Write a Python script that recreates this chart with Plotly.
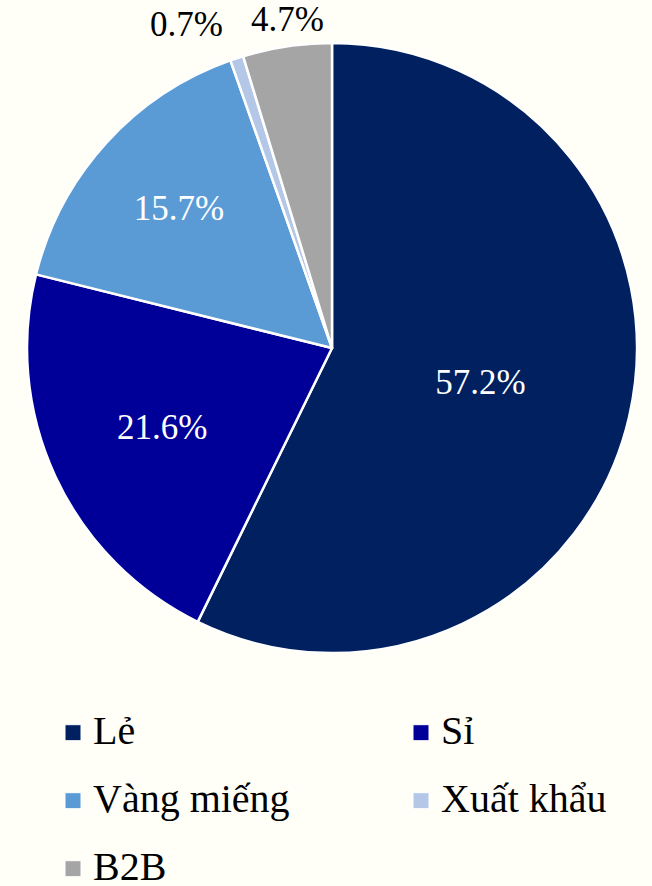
import math
import plotly.graph_objects as go

categories = ["Lẻ", "Sỉ", "Vàng miếng", "Xuất khẩu", "B2B"]
values = [57.2, 21.6, 15.7, 0.7, 4.7]
colors = ["#002060", "#000099", "#5B9BD5", "#B4C7E7", "#A5A5A5"]
text_pos = ["inside", "inside", "inside", "none", "none"]
text_colors = ["#FFFFFF", "#FFFFFF", "#FFFFFF", "#000000", "#000000"]
legend_column = ["legend", "legend2", "legend", "legend2", "legend"]

W, H = 652, 886
cx, cy, R = 332, 348, 305
# outside labels for the thin slices: anchor + pixel nudge from the slice's mid-angle rim point
outside_style = {
    3: dict(xanchor="right", yanchor="bottom", xshift=-12, yshift=12),
    4: dict(xanchor="center", yanchor="bottom", xshift=0, yshift=5),
}
LABEL_FONT = dict(family="Liberation Serif", size=35)

fig = go.Figure()
fig.add_trace(go.Pie(
    labels=categories,
    values=values,
    sort=False,
    direction="clockwise",
    rotation=0,
    showlegend=False,
    marker=dict(colors=colors, line=dict(color="#FFFFFF", width=2.5)),
    texttemplate="%{value:.1f}%",
    textposition=text_pos,
    textfont=dict(**LABEL_FONT, color=text_colors),
    insidetextorientation="horizontal",
    hovertemplate="%{label}: %{value}%<extra></extra>",
    domain=dict(x=[(cx - R) / W, (cx + R) / W], y=[(H - cy - R) / H, (H - cy + R) / H]),
))

total = sum(values)
cum = 0.0
for i, v in enumerate(values):
    mid = (cum + v / 2) / total * 2 * math.pi
    cum += v
    if i not in outside_style:
        continue
    px = cx + R * math.sin(mid)
    py = cy - R * math.cos(mid)
    fig.add_annotation(
        x=px / W, y=(H - py) / H, xref="paper", yref="paper",
        text=f"{v:.1f}%", showarrow=False,
        font=dict(**LABEL_FONT, color="#000000"),
        **outside_style[i],
    )

# legend entries (legend-only markers, one per category)
for name, col, lg in zip(categories, colors, legend_column):
    fig.add_trace(go.Scatter(
        x=[None], y=[None], mode="markers",
        name=f"<span style='font-size:40px'>{name}</span>",
        legendgroup=name,
        marker=dict(symbol="square", size=17, color=col, line=dict(width=1, color="#FFFFFF")),
        legend=lg, showlegend=True, hoverinfo="skip",
    ))

legend_common = dict(
    orientation="v",
    yanchor="top",
    traceorder="grouped",
    tracegroupgap=28.6,
    font=dict(family="Liberation Serif", size=28, color="#000000"),
    bgcolor="rgba(0,0,0,0)",
    borderwidth=0,
)

fig.update_layout(
    width=W, height=H,
    margin=dict(l=0, r=0, t=0, b=0, autoexpand=False),
    paper_bgcolor="#FFFFF7",
    plot_bgcolor="#FFFFF7",
    font=dict(family="Liberation Serif", color="#000000"),
    xaxis=dict(visible=False),
    yaxis=dict(visible=False),
    legend=dict(x=53 / W, y=(H - 708) / H, xanchor="left", **legend_common),
    legend2=dict(x=401 / W, y=(H - 708) / H, xanchor="left", **legend_common),
)

fig.write_html(
    "out.html",
    config={"displayModeBar": False},
    post_script="document.body.style.margin='0';document.body.style.background='#FFFFF7';",
)
